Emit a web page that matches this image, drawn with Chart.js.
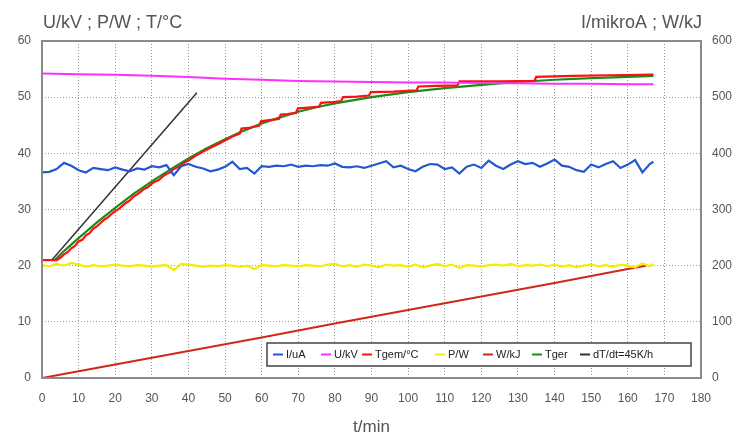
<!DOCTYPE html>
<html><head><meta charset="utf-8">
<script src="https://cdn.jsdelivr.net/npm/chart.js@4.4.0/dist/chart.umd.min.js"></script>
<style>html,body{margin:0;padding:0;background:#fff}#wrap{width:739px;height:439px;position:relative}</style>
</head><body><div id="wrap"><canvas id="c" width="739" height="439"></canvas></div>
<script>
// sample times (min) for noisy series
const tSamples = [0,2,4,6,8,10,12,14,16,18,20,22,24,26,28,30,32,34,36,38,40,42,44,46,48,50,52,54,56,58,60,62,64,66,68,70,72,74,76,78,80,82,84,86,88,90,92,94,96,98,100,102,104,106,108,110,112,114,116,118,120,122,124,126,128,130,132,134,136,138,140,142,144,146,148,150,152,154,156,158,160,162,164,166,167];
// I/uA (right axis)
const currentUA = [366,367,372,383,378,370,366,374,372,370,375,371,368,373,371,377,375,379,361,377,381,376,373,368,371,376,385,372,374,364,377,376,378,377,380,376,378,377,379,378,382,376,375,377,374,378,382,386,375,378,372,368,376,381,380,372,375,364,376,380,374,387,378,372,380,386,381,383,376,382,389,378,376,370,367,380,375,381,386,374,380,388,366,381,385];
// P/W (left axis)
const powerW = [20.1,19.9,20.3,20.0,20.5,20.2,19.8,20.1,19.9,20.0,20.2,20.0,19.9,20.1,20.0,19.8,20.0,20.1,19.2,20.3,20.2,20.0,19.8,20.0,19.9,20.1,20.0,19.8,20.0,19.4,20.1,20.0,19.9,20.1,20.0,19.9,20.1,20.0,19.9,20.2,20.3,19.9,20.1,19.8,20.2,20.0,19.7,20.2,20.0,20.1,19.8,20.2,19.7,20.0,20.3,19.9,20.2,19.6,20.1,20.0,19.8,20.1,20.2,20.0,20.3,19.9,20.1,20.0,20.2,19.9,20.2,19.8,20.1,19.7,20.0,20.2,19.9,20.1,19.8,20.2,20.0,19.7,20.4,19.9,20.3];
// U/kV
const voltT = [0,10,20,30,40,50,60,70,80,90,100,110,120,130,140,150,160,167];
const voltKV = [54.2,54.1,54.0,53.8,53.6,53.3,53.1,52.9,52.8,52.7,52.6,52.6,52.5,52.5,52.4,52.4,52.3,52.3];
// Tgem/°C
const tempT = [0,4,5,6,7,8,9,10,11,12,13,14,15,16,17,18,19,20,21,22,23,24,25,26,27,28,29,30,31,32,33,34,35,36,37,38,39,40,42,44,46,48,50,52,54,54.5,57,59.3,59.8,62,64.7,65.2,67,69.4,69.9,72,75.7,76.2,79,81.7,82.2,86,89.3,89.8,96,102.3,102.8,108,113.5,114,125,134.5,135,145,155,167];
const tempGem = [21.0,21.0,21.4,22.0,22.4,23.1,23.5,24.3,24.6,25.4,25.8,26.6,27.0,27.6,28.2,28.6,29.2,29.7,30.1,30.7,31.2,31.6,32.3,32.7,33.2,33.7,34.0,34.6,35.0,35.3,35.9,36.3,36.6,37.2,37.5,37.9,38.4,38.7,39.6,40.3,41.0,41.6,42.3,43.0,43.5,44.4,44.6,44.9,45.7,45.9,46.1,46.9,47.0,47.2,48.0,48.1,48.3,49.0,49.1,49.3,50.0,50.1,50.3,50.9,51.0,51.2,51.9,52.0,52.1,52.8,52.8,52.9,53.6,53.8,53.9,54.0];
// W/kJ (right axis)
const energyT = [0,10,20,40,60,80,100,120,140,160,165];
const energyKJ = [0,12,24,48,72,97,121,145,169,194,200];
// Tger (fit)
const gerT = [3.5,6,10,15,20,25,30,35,40,45,50,55,60,65,70,75,80,90,100,110,120,130,140,150,160,167];
const tempGer = [21.0,22.6,24.9,27.7,30.3,32.8,35.0,37.1,39.1,40.9,42.5,44.0,45.3,46.4,47.4,48.2,48.9,50.0,50.9,51.6,52.2,52.7,53.1,53.4,53.6,53.8];
// dT/dt = 45 K/h tangent
const slopeT = [2.7,42.3];
const slopeV = [21.0,50.8];

const xTicks = [0,10,20,30,40,50,60,70,80,90,100,110,120,130,140,150,160,170,180];
const leftTicks = [0,10,20,30,40,50,60];
const rightTicks = [0,100,200,300,400,500,600];

const pts = (xs, ys) => xs.map((x, i) => ({x: x, y: ys[i]}));
const FONT = "'Liberation Sans', Arial, sans-serif";
const TXT = '#555';

const ds = [
  {label:'I/uA', data:pts(tSamples,currentUA), borderColor:'#2458d0', yAxisID:'y1', borderWidth:2.2},
  {label:'U/kV', data:pts(voltT,voltKV), borderColor:'#ff30ff', yAxisID:'y', borderWidth:2},
  {label:'Tgem/°C', data:pts(tempT,tempGem), borderColor:'#ff1010', yAxisID:'y', borderWidth:2.2},
  {label:'P/W', data:pts(tSamples,powerW), borderColor:'#f2ee00', yAxisID:'y', borderWidth:2.2},
  {label:'W/kJ', data:pts(energyT,energyKJ), borderColor:'#d02818', yAxisID:'y1', borderWidth:2},
  {label:'Tger', data:pts(gerT,tempGer), borderColor:'#1a8c1a', yAxisID:'y', borderWidth:2.2},
  {label:'dT/dt=45K/h', data:pts(slopeT,slopeV), borderColor:'#333333', yAxisID:'y', borderWidth:1.5}
];
ds.forEach(d => { d.pointRadius = 0; d.tension = 0; d.fill = false; });

const legendX = [273,321,362,435,483,532,580];

const decor = {
  id:'decor',
  afterDraw(chart){
    const ctx = chart.ctx, a = chart.chartArea;
    ctx.save();
    // frame
    ctx.strokeStyle = '#8a8a8a'; ctx.lineWidth = 2;
    ctx.strokeRect(a.left, a.top, a.right - a.left, a.bottom - a.top);
    // axis headings
    ctx.fillStyle = TXT; ctx.font = '18px ' + FONT; ctx.textBaseline = 'middle';
    ctx.textAlign = 'left'; ctx.fillText('U/kV ; P/W ; T/°C', a.left + 1, 23);
    ctx.textAlign = 'right'; ctx.fillText('I/mikroA ; W/kJ', a.right + 1, 23);
    // legend
    const bx = 267, by = 343, bw = 424, bh = 23;
    ctx.fillStyle = '#fff'; ctx.fillRect(bx, by, bw, bh);
    ctx.strokeStyle = '#444'; ctx.lineWidth = 1.5; ctx.strokeRect(bx, by, bw, bh);
    ctx.font = '11px ' + FONT; ctx.textAlign = 'left';
    const cy = by + bh / 2;
    chart.data.datasets.forEach((d, i) => {
      const x = legendX[i];
      ctx.strokeStyle = d.borderColor; ctx.lineWidth = 2;
      ctx.beginPath(); ctx.moveTo(x, cy); ctx.lineTo(x + 10, cy); ctx.stroke();
      ctx.fillStyle = '#222'; ctx.fillText(d.label, x + 13, cy + 0.5);
    });
    ctx.restore();
  }
};

new Chart(document.getElementById('c'), {
  type:'line',
  data:{datasets:ds},
  options:{
    responsive:false, animation:false, events:[],
    layout:{padding:{top:41,left:0,right:0,bottom:0}},
    plugins:{legend:{display:false}, tooltip:{enabled:false}},
    scales:{
      x:{type:'linear', min:0, max:180,
        afterBuildTicks:s => { s.ticks = xTicks.map(v => ({value:v})); },
        afterFit:s => { s.height = 61; },
        grid:{color:'#9a9a9a', drawTicks:false}, border:{display:false, dash:[1,2]},
        ticks:{color:TXT, font:{family:FONT, size:12}, padding:13, maxRotation:0},
        title:{display:true, text:'t/min', color:TXT, font:{family:FONT, size:17}, padding:{top:0,bottom:1}}
      },
      y:{position:'left', min:0, max:60,
        afterBuildTicks:s => { s.ticks = leftTicks.map(v => ({value:v})); },
        afterFit:s => { s.width = 42; },
        grid:{color:'#9a9a9a', drawTicks:false}, border:{display:false, dash:[1,2]},
        ticks:{color:TXT, font:{family:FONT, size:12}, padding:11}
      },
      y1:{position:'right', min:0, max:600,
        afterBuildTicks:s => { s.ticks = rightTicks.map(v => ({value:v})); },
        afterFit:s => { s.width = 38; },
        grid:{display:false, drawTicks:false}, border:{display:false},
        ticks:{color:TXT, font:{family:FONT, size:12}, padding:11}
      }
    }
  },
  plugins:[decor]
});
</script></body></html>
